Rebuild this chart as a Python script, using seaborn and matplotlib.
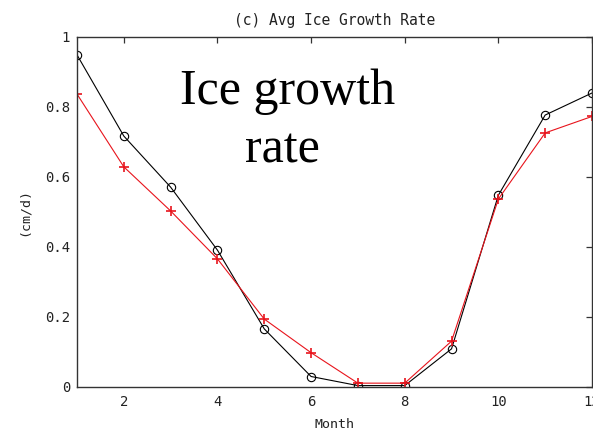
import matplotlib
matplotlib.use("Agg")
import matplotlib.pyplot as plt
import seaborn as sns
import pandas as pd

months = [1, 2, 3, 4, 5, 6, 7, 8, 9, 10, 11, 12]
black_series = [0.949, 0.717, 0.571, 0.391, 0.166, 0.030, 0.004, 0.004, 0.109, 0.548, 0.777, 0.840]
red_series = [0.837, 0.629, 0.503, 0.366, 0.194, 0.098, 0.011, 0.011, 0.131, 0.537, 0.726, 0.773]
x_ticks = [2, 4, 6, 8, 10, 12]
y_ticks = [0, 0.2, 0.4, 0.6, 0.8, 1]
y_tick_labels = ["0", "0.2", "0.4", "0.6", "0.8", "1"]

sns.set_style("white")
plt.rcParams["font.family"] = ["DejaVu Sans Mono"]

fig = plt.figure(figsize=(5.93, 4.34), dpi=100)
ax = fig.add_axes([77 / 593, 1 - 387 / 434, (592 - 77) / 593, (387 - 37) / 434])

df_b = pd.DataFrame({"Month": months, "val": black_series})
df_r = pd.DataFrame({"Month": months, "val": red_series})

sns.lineplot(data=df_b, x="Month", y="val", ax=ax, color="black", lw=0.8,
             marker="o", markersize=6, markerfacecolor="none",
             markeredgecolor="black", markeredgewidth=0.8)
sns.lineplot(data=df_r, x="Month", y="val", ax=ax, color="#e8141c", lw=0.8,
             marker="+", markersize=7, markeredgecolor="#e8141c",
             markeredgewidth=1.2)

ax.set_xlim(1, 12)
ax.set_ylim(0, 1)
ax.set_xticks(x_ticks)
ax.set_yticks(y_ticks)
ax.set_yticklabels(y_tick_labels)
ax.tick_params(direction="in", length=4, width=0.9, top=True, right=True,
               labelsize=10, colors="#333333", labelcolor="#222222")
ax.tick_params(axis="y", pad=5)
ax.tick_params(axis="x", pad=6)
for s in ax.spines.values():
    s.set_color("#333333")
    s.set_linewidth(1.0)
    s.set_visible(True)

ax.set_xlabel("Month", fontsize=9.5, color="#222222", labelpad=6)
ax.set_ylabel("(cm/d)", fontsize=9.5, color="#222222", labelpad=10)
ax.set_title("(c) Avg Ice Growth Rate", fontsize=10.5, color="#222222", pad=9)

ax.text(288 / 593, 1 - 92 / 434, "Ice growth", transform=fig.transFigure,
        fontsize=36, family="Liberation Serif", ha="center", va="center", color="black")
ax.text(282 / 593, 1 - 150 / 434, "rate", transform=fig.transFigure,
        fontsize=36, family="Liberation Serif", ha="center", va="center", color="black")

fig.savefig("out.png", dpi=100)
